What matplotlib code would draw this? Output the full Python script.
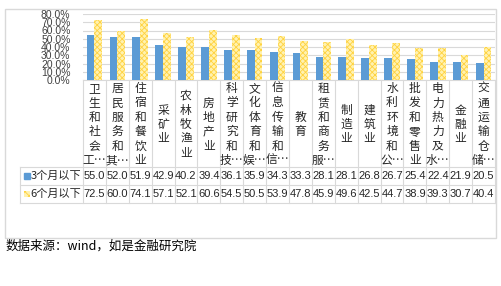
import numpy as np
import matplotlib.pyplot as plt
from matplotlib.transforms import blended_transform_factory
from matplotlib.patches import Rectangle

plt.rcParams['font.family'] = ['Noto Sans CJK SC', 'DejaVu Sans']
plt.rcParams['hatch.linewidth'] = 0.6

# category labels as shown (stacked vertically, truncated like the original)
labels = ['卫生和社会工…', '居民服务和其…', '住宿和餐饮业', '采矿业', '农林牧渔业',
          '房地产业', '科学研究和技…', '文化体育和娱…', '信息传输和信…', '教育',
          '租赁和商务服…', '制造业', '建筑业', '水利环境和公…', '批发和零售业',
          '电力热力及水…', '金融业', '交通运输仓储…']
m3 = [55.0, 52.0, 51.9, 42.9, 40.2, 39.4, 36.1, 35.9, 34.3, 33.3,
      28.1, 28.1, 26.8, 26.7, 25.4, 22.4, 21.9, 20.5]
m6 = [72.5, 60.0, 74.1, 57.1, 52.1, 60.6, 54.5, 50.5, 53.9, 47.8,
      45.9, 49.6, 42.5, 44.7, 38.9, 39.3, 30.7, 40.4]
series_names = ['3个月以下', '6个月以下']
yticks = np.arange(0, 81, 10)

W, H = 502, 286
blue = '#5B9BD5'
yellow = '#FFD23F'
grid = '#D9D9D9'
num_font = ['Liberation Sans Narrow', 'Liberation Sans', 'DejaVu Sans']

fig = plt.figure(figsize=(W / 100, H / 100), dpi=100)

# pixel overlay for frame, table and texts
pax = fig.add_axes([0, 0, 1, 1])
pax.set_xlim(0, W)
pax.set_ylim(H, 0)
pax.axis('off')

left, right, top0, bot0 = 83, 495, 14, 80
ax = fig.add_axes([left / W, 1 - bot0 / H, (right - left) / W, (bot0 - top0) / H])
n = len(labels)
x = np.arange(n)
bw = 0.34
ax.bar(x - bw / 2, m3, bw, color=blue, zorder=3)
ax.bar(x + bw / 2, m6, bw, color='#FFF2B0', edgecolor=yellow, hatch='xxxxxx',
       linewidth=0, zorder=3)
ax.set_xlim(-0.5, n - 0.5)
ax.set_ylim(0, 80)
ax.set_yticks(yticks)
ax.set_yticklabels([f'{v:.1f}%' for v in yticks], fontsize=7.5, color='#404040',
                   family='Liberation Sans')
ax.tick_params(axis='y', length=0, pad=9)
ax.tick_params(axis='x', length=0, labelbottom=False)
ax.grid(axis='y', color=grid, linewidth=0.8, zorder=0)
for s in ['top', 'right', 'left']:
    ax.spines[s].set_visible(False)
ax.spines['bottom'].set_color(grid)
ax.set_facecolor('none')

# outer border
pax.add_patch(Rectangle((5.5, 8.5), 491, 229, fill=False, edgecolor=grid, linewidth=1))

tr = blended_transform_factory(ax.transData, pax.transData)
row1_top, row1_bot, row2_bot = 167, 185, 203

# table lines
for b in np.arange(n + 1) - 0.5:
    pax.plot([b, b], [bot0, row2_bot], color=grid, lw=0.8, transform=tr)
pax.plot([20, 20], [row1_top, row2_bot], color=grid, lw=0.8)
for yy in [row1_top, row1_bot, row2_bot]:
    pax.plot([20, right], [yy, yy], color=grid, lw=0.8)

# stacked category labels
pitch = 14.4
mid = (bot0 + row1_top) / 2 + 1
for i, lab in enumerate(labels):
    lines = list(lab)
    if lines[-1] == '…':
        lines = lines[:-2] + [lines[-2] + '…']
    y0 = mid - pitch * (len(lines) - 1) / 2
    for k, ch in enumerate(lines):
        pax.text(i, y0 + k * pitch, ch, transform=tr, ha='center', va='center',
                 fontsize=8.5, color='#262626')

# table values
for i in range(n):
    pax.text(i, (row1_top + row1_bot) / 2, f'{m3[i]:.1f}', transform=tr,
             ha='center', va='center', fontsize=8, color='#262626', family=num_font)
    pax.text(i, (row1_bot + row2_bot) / 2, f'{m6[i]:.1f}', transform=tr,
             ha='center', va='center', fontsize=8, color='#262626', family=num_font)

# legend keys in table
pax.add_patch(Rectangle((24, 172.5), 6, 6, color=blue))
pax.add_patch(Rectangle((24, 190.5), 6, 6, facecolor='#FFF2B0', edgecolor=yellow,
                        hatch='xxxx', linewidth=0))
pax.text(30.5, (row1_top + row1_bot) / 2, series_names[0], ha='left', va='center',
         fontsize=8, color='#262626')
pax.text(30.5, (row1_bot + row2_bot) / 2, series_names[1], ha='left', va='center',
         fontsize=8, color='#262626')

pax.text(6, 246.5, '数据来源：wind，如是金融研究院', ha='left', va='center',
         fontsize=9, color='black')

fig.savefig('out.png', dpi=100)
